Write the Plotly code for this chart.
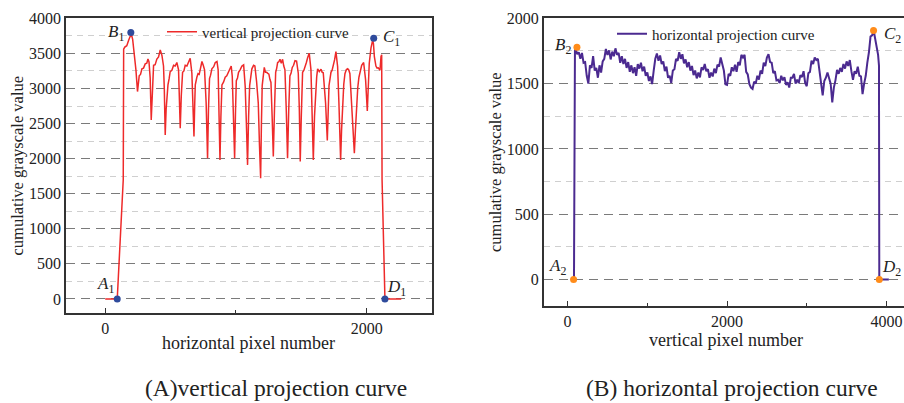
import plotly.graph_objects as go

W, H = 904, 403
FONT = "Liberation Serif"

# ---------------- data: vertical projection curve (panel A) ----------------
vert_x = [0, 92, 138, 141, 150, 165, 180, 199, 210, 217, 226, 235, 247, 254, 260, 270, 281, 293, 306, 318,
          327, 335, 344, 352, 360, 370, 382, 395, 408, 421, 434, 446, 452, 459, 466, 473, 480, 489, 497, 510,
          523, 535, 548, 561, 568, 574, 582, 592, 602, 612, 625, 638, 650, 663, 671, 679, 685, 689, 701, 710,
          719, 730, 740, 750, 760, 772, 783, 790, 798, 806, 816, 830, 842, 855, 864, 871, 878, 885, 893, 905,
          918, 930, 944, 955, 964, 972, 980, 990, 997, 1003, 1012, 1020, 1033, 1046, 1059, 1071, 1080, 1089,
          1097, 1105, 1114, 1122, 1135, 1145, 1158, 1171, 1180, 1189, 1195, 1201, 1210, 1217, 1226, 1235,
          1244, 1252, 1260, 1268, 1277, 1286, 1295, 1304, 1312, 1319, 1328, 1337, 1347, 1357, 1366, 1375,
          1385, 1395, 1404, 1413, 1422, 1431, 1441, 1452, 1464, 1477, 1485, 1492, 1500, 1510, 1520, 1528,
          1539, 1549, 1561, 1574, 1583, 1592, 1601, 1610, 1618, 1625, 1638, 1651, 1660, 1668, 1677, 1686,
          1699, 1706, 1712, 1720, 1727, 1736, 1745, 1755, 1765, 1772, 1778, 1788, 1801, 1808, 1816, 1825,
          1834, 1845, 1855, 1864, 1872, 1881, 1890, 1906, 1914, 1923, 1932, 1941, 1951, 1962, 1977, 1992,
          2005, 2012, 2020, 2033, 2046, 2052, 2059, 2071, 2080, 2089, 2102, 2110, 2115, 2118, 2140, 2265]
vert_y = [0, 0, 1700, 3560, 3590, 3610, 3690, 3780, 3700, 3600, 3450, 3265, 2956, 3100, 3180, 3200, 3280, 3290, 3350, 3360,
          3420, 3380, 3150, 2552, 3000, 3330, 3340, 3420, 3450, 3550, 3470, 3320, 3000, 2338, 2700, 2950, 3050, 3140, 3240, 3260,
          3330, 3320, 3370, 3265, 2900, 2434, 2900, 3230, 3250, 3330, 3320, 3370, 3431, 3217, 2800, 2314, 2800, 3050, 3160, 3210,
          3200, 3310, 3384, 3330, 3265, 2800, 2006, 2700, 3140, 3190, 3280, 3310, 3370, 3384, 3265, 2600, 1982, 2600, 3050, 3090,
          3160, 3180, 3230, 3270, 3320, 3170, 2600, 2006, 2700, 3110, 3150, 3230, 3270, 3320, 3336, 3027, 2500, 1911,
          2600, 3040, 3170, 3280, 3330, 3320, 3100, 2790, 2200, 1720, 2500, 3040, 3190, 3300, 3230, 3230,
          3215, 3205, 3130, 3085, 2600, 2030, 2700, 3230, 3290, 3370, 3380, 3415, 3360, 3415, 3320, 3265,
          2700, 2006, 2700, 3180, 3220, 3300, 3330, 3395, 3390, 3217, 2700, 1960, 2600, 3230, 3260, 3325,
          3370, 3440, 3500, 3265, 2700, 1982, 2600, 3040, 3170, 3280, 3240, 3275, 3230, 3225, 3050, 2790,
          2260, 2600, 3040, 3140, 3230, 3260, 3325, 3410, 3525, 3420, 3312, 2790, 1982, 2400, 2790, 3060,
          3210, 3270, 3280, 3260, 3210, 2900, 2552, 2077, 2400, 2790, 3010, 3160, 3270, 3330, 3370, 3122,
          2680, 3000, 3360, 3574, 3690, 3640, 3455, 3320, 3290, 3295, 3260, 3455, 3479, 1700, 0, 0]
vert_pts_x = [92, 196, 2054, 2140]
vert_pts_y = [0, 3796, 3716, 0]
vert_pts_labels = ["A", "B", "C", "D"]

# ---------------- data: horizontal projection curve (panel B) ----------------
horz_head_x = [40, 80, 92]
horz_head_y = [0, 0, 1760]
horz_body_start, horz_body_step = 100, 20   # pixel-number sampling of the body
horz_body_y = [
    1770, 1725, 1740, 1690, 1735, 1660, 1665, 1560, 1500, 1640,
    1620, 1710, 1600, 1620, 1545, 1640, 1585, 1670, 1690, 1765,
    1720, 1755, 1685, 1745, 1710, 1770, 1720, 1735, 1660, 1710,
    1650, 1690, 1620, 1665, 1590, 1640, 1580, 1625, 1560, 1650,
    1615, 1660, 1595, 1630, 1560, 1585, 1520, 1555, 1497, 1600,
    1690, 1730, 1675, 1715, 1650, 1670, 1595, 1630, 1545, 1560,
    1505, 1600, 1610, 1690, 1675, 1740, 1690, 1725, 1655, 1685,
    1625, 1665, 1600, 1635, 1565, 1600, 1540, 1585, 1548, 1625,
    1605, 1650, 1595, 1610, 1545, 1585, 1555, 1615, 1580, 1645,
    1630, 1700, 1640, 1600, 1495, 1490, 1575, 1560, 1625, 1595,
    1645, 1590, 1665, 1640, 1720, 1700, 1720, 1590, 1570, 1495,
    1470, 1460, 1515, 1500, 1560, 1530, 1600, 1575, 1660, 1635,
    1700, 1725, 1665, 1660, 1580, 1595, 1525, 1530, 1505, 1560,
    1525, 1550, 1490, 1510, 1470, 1545, 1545, 1575, 1500, 1530,
    1505, 1565, 1550, 1595, 1505, 1480, 1580, 1590, 1675, 1650,
    1700, 1680, 1690, 1600, 1510, 1410, 1520, 1545, 1585, 1530,
    1500, 1356, 1470, 1525, 1605, 1575, 1620, 1590, 1650, 1615,
    1670, 1635, 1680, 1595, 1530, 1595, 1575, 1630, 1560, 1555,
    1420, 1500, 1560, 1660, 1740, 1860, 1870, 1905, 1840, 1780,
]
horz_tail_x = [3895, 3906, 3910, 4030]
horz_tail_y = [1720, 1640, 0, 0]
horz_pts_x = [75, 117, 3838, 3910]
horz_pts_y = [0, 1778, 1907, 0]
horz_pts_labels = ["A", "B", "C", "D"]

horz_x = horz_head_x + [horz_body_start + i * horz_body_step for i in range(len(horz_body_y))] + horz_tail_x
horz_y = horz_head_y + horz_body_y + horz_tail_y

# ---------------- figure ----------------
def pxx(v):
    return v / W

def pxy(v):
    return 1 - v / H

fig = go.Figure()
fig.add_trace(go.Scatter(x=vert_x, y=vert_y, mode="lines", name="vertical projection curve",
                         line=dict(color="#ee2a2a", width=1.5), xaxis="x", yaxis="y", legend="legend"))
fig.add_trace(go.Scatter(x=vert_pts_x, y=vert_pts_y, mode="markers", showlegend=False,
                         marker=dict(color="#2f4b9c", size=7), xaxis="x", yaxis="y"))
fig.add_trace(go.Scatter(x=horz_x, y=horz_y, mode="lines", name="horizontal projection curve",
                         line=dict(color="#4b2a90", width=2), xaxis="x2", yaxis="y2", legend="legend2"))
fig.add_trace(go.Scatter(x=horz_pts_x, y=horz_pts_y, mode="markers", showlegend=False,
                         marker=dict(color="#ff8c1a", size=7), xaxis="x2", yaxis="y2"))

axis_font = dict(family=FONT, size=16, color="#222")
framecol = "#333"

def xaxis_cfg(domain, rng, anchor, mirror):
    return dict(domain=domain, range=rng, anchor=anchor, showgrid=False, zeroline=False, automargin=False,
                showline=True, linecolor=framecol, linewidth=1.5, mirror=mirror,
                ticks="inside", ticklen=5, tickcolor=framecol, tickwidth=1.2,
                dtick=2000, tick0=0, tickfont=axis_font,
                minor=dict(dtick=1000, tick0=0, ticks="inside", ticklen=3, tickcolor=framecol, showgrid=False))

def yaxis_cfg(domain, rng, anchor, mirror, dtick, mdtick):
    return dict(domain=domain, range=rng, anchor=anchor, zeroline=False, automargin=False,
                showline=True, linecolor=framecol, linewidth=1.5, mirror=mirror,
                ticks="", dtick=dtick, tick0=0, tickfont=axis_font,
                showgrid=True, gridcolor="#7a7a7a", gridwidth=1.2, griddash="9px,6px",
                minor=dict(dtick=mdtick, tick0=0, showgrid=True, gridcolor="#cfcfcf",
                           gridwidth=1, griddash="6px,5px"))

fig.update_layout(
    template="none",
    width=W, height=H, margin=dict(l=0, r=0, t=0, b=0, autoexpand=False),
    paper_bgcolor="white", plot_bgcolor="white",
    font=dict(family=FONT, color="#222"),
    xaxis=xaxis_cfg([pxx(66), pxx(432)], [-300, 2500], "y", True),
    yaxis=yaxis_cfg([pxy(313), pxy(18.3)], [-200, 4000], "x", True, 500, 250),
    xaxis2=xaxis_cfg([pxx(543.7), 1.0], [-300, 4220], "y2", True),
    yaxis2=yaxis_cfg([pxy(305.7), pxy(18.3)], [-200, 2000], "x2", False, 500, 250),
    legend=dict(x=pxx(162), y=pxy(32), xanchor="left", yanchor="middle", bgcolor="rgba(0,0,0,0)",
                font=dict(family=FONT, size=15, color="#222"), itemwidth=30),
    legend2=dict(x=pxx(612), y=pxy(34), xanchor="left", yanchor="middle", bgcolor="rgba(0,0,0,0)",
                 font=dict(family=FONT, size=15, color="#222"), itemwidth=30),
)

ann = []
def add_text(text, x, y, size, angle=0):
    ann.append(dict(text=text, x=pxx(x), y=pxy(y), xref="paper", yref="paper", showarrow=False,
                    xanchor="center", yanchor="middle", textangle=angle,
                    font=dict(family=FONT, size=size, color="#222")))

# axis titles
add_text("horizontal pixel number", 248.5, 343, 18)
add_text("cumulative grayscale value", 17, 165.5, 16.5, -90)
add_text("vertical pixel number", 726, 340, 18)
add_text("cumulative grayscale value", 495, 162, 16.5, -90)
# captions
add_text("(A)vertical projection curve", 276, 388, 23.5)
add_text("(B) horizontal projection curve", 732, 388, 23.5)
# point labels
lab_pos_A = [(105, 285), (116, 33), (391, 38), (396, 288)]
lab_pos_B = [(557, 267), (563, 46), (892, 35), (891, 268)]
for lbl, (x, y) in zip(vert_pts_labels, lab_pos_A):
    add_text(f"<i>{lbl}</i><sub>1</sub>", x, y, 17)
for lbl, (x, y) in zip(horz_pts_labels, lab_pos_B):
    add_text(f"<i>{lbl}</i><sub>2</sub>", x, y, 17)

fig.update_layout(annotations=ann)
fig.write_html("out.html", config={"displayModeBar": False},
               post_script="document.body.style.margin='0';document.body.style.overflow='hidden';")
